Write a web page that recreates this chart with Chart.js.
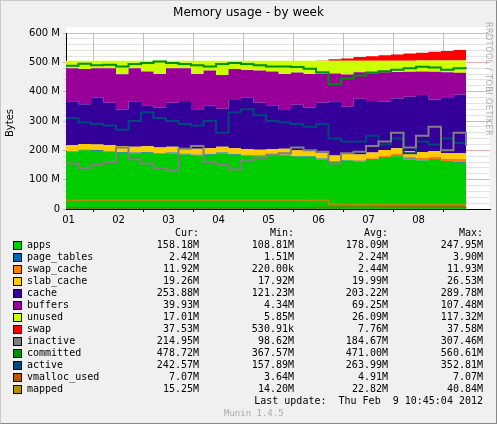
<!DOCTYPE html>
<html>
<head>
<meta charset="utf-8">
<script src="https://cdn.jsdelivr.net/npm/chart.js@4"></script>
<style>
  body { margin:0; background:#f0f0f0; width:497px; height:424px; overflow:hidden; position:relative;
         font-family:"DejaVu Sans Mono", monospace; font-size:10px; color:#000; }
  #frame { position:absolute; left:0; top:0; width:495px; height:422px; border:1px solid #c8c8c8; border-right-color:#888; border-bottom-color:#888; }
  #wrap { position:absolute; left:0; top:0; width:497px; height:228px; }
  #title { position:absolute; top:5px; left:0; width:497px; text-align:center; font-family:"DejaVu Sans", sans-serif; font-size:12px; }
  #ylab { position:absolute; left:4px; top:137px; transform:rotate(-90deg); transform-origin:left top; font-family:"DejaVu Sans", sans-serif; font-size:10px; }
  #rrd { position:absolute; left:484px; top:22px; writing-mode:vertical-rl; font-family:"DejaVu Sans", sans-serif; font-size:8px; color:#aaa; letter-spacing:0.5px; }
  .row { position:absolute; left:0; height:12px; line-height:12px; width:497px; }
  .row span { position:absolute; white-space:pre; }
  .sw { position:absolute; left:13px; top:2px; width:7px; height:7px; border:1px solid #000; }
</style>
</head>
<body>
<div id="frame"></div>
<div id="wrap"><canvas id="c" width="497" height="228"></canvas></div>
<div id="title">Memory usage - by week</div>
<div id="ylab">Bytes</div>
<div id="rrd">RRDTOOL / TOBI OETIKER</div>
<div id="legend"></div>
<script>
// time in days of February
const times = [1.45,1.7,1.95,2.2,2.45,2.7,2.95,3.2,3.45,3.7,3.95,4.2,4.45,4.7,4.95,5.2,5.45,5.7,5.95,6.2,6.45,6.7,6.95,7.2,7.45,7.7,7.95,8.2,8.45,8.7,8.95,9.2,9.45]
const dayLabels = ['01','02','03','04','05','06','07','08']

// stacked areas, in M
const apps       = [195,200,198,195,192,190,192,188,190,186,183,185,190,185,182,180,182,183,178,178,170,160,165,162,168,175,180,170,165,168,160,158,158]
const pageTables = [2.2,2.2,2.2,2.2,2.2,2.2,2.2,2.2,2.2,2.2,2.2,2.2,2.2,2.2,2.2,2.2,2.2,2.2,2.2,2.2,2.2,2.2,2.3,2.3,2.3,2.3,2.3,2.3,2.4,2.4,2.4,2.4,2.4]
const swapCache  = [0.3,0.3,0.3,0.3,0.3,0.3,0.3,0.3,0.3,0.3,0.3,0.3,0.3,0.3,0.3,0.3,0.3,0.3,0.3,0.3,0.3,0.5,1,2,3,4,5,6,7,8,9,10,11.9]
const slabCache  = [19.5,19.5,19.5,19.5,19.5,19.5,19.5,19.5,19.5,19.5,19.5,19.5,19.5,19.5,19.5,19.5,19.5,19.5,19.5,19.5,19.5,19.5,20,19.5,19.5,19.5,19.5,19.5,19.5,19.5,19.5,19.5,19.3]
const cache      = [150,135,160,145,125,155,140,135,150,160,135,145,130,165,175,160,150,135,155,145,170,185,160,190,175,165,170,185,195,175,190,200,254]
const buffers    = [113,120,100,118,120,113,115,115,118,112,120,120,115,105,95,110,115,120,110,115,100,95,110,90,95,100,90,85,80,95,85,75,40]
const unused     = [25,28,25,25,46,25,36,45,25,25,45,33,48,28,31,33,36,45,40,45,43,43,47,40,43,40,39,38,37,38,40,41,17]
const swap       = [0.5,0.5,0.5,0.5,0.5,0.5,0.5,0.5,0.5,0.5,0.5,0.5,0.5,0.5,0.5,0.5,0.5,0.5,0.5,0.5,1,5,8,12,15,18,21,24,27,30,33,36,37.5]

// lines, in M
const inactive   = [155,140,150,160,210,170,155,140,130,205,215,160,150,135,165,175,185,190,210,200,195,155,190,195,215,230,260,210,250,280,200,260,215]
const committed  = [488,495,490,492,486,494,498,503,498,494,490,486,494,498,494,490,486,486,484,478,466,425,445,455,465,470,475,480,485,482,475,480,479]
const active     = [310,295,290,285,270,300,330,310,300,290,285,300,260,330,340,320,300,295,290,280,290,240,230,230,250,220,240,190,230,220,240,225,243]
const vmalloc    = [4,4,4,4,4,4,4,4,4,4,4,4,4,4,4,4,4,4,4.5,4.5,5,5.5,6,6,6,6.5,6.5,6.5,7,7,7,7,7.07]
const mapped     = [30,30,30,30,30,30,30,30,30,30,30,30,30,30,30,30,30,30,30,30,30,16,15.5,15.5,15.5,15.5,15.5,15.5,15.5,15.3,15.3,15.3,15.25]

const yTicks = [0,100,200,300,400,500,600]

const legendRows = [
  ['apps','#00CC00','158.18M','108.81M','178.09M','247.95M'],
  ['page_tables','#0066B3','2.42M','1.51M','2.24M','3.90M'],
  ['swap_cache','#FF8000','11.92M','220.00k','2.44M','11.93M'],
  ['slab_cache','#FFCC00','19.26M','17.92M','19.99M','26.53M'],
  ['cache','#330099','253.88M','121.23M','203.22M','289.78M'],
  ['buffers','#990099','39.93M','4.34M','69.25M','107.48M'],
  ['unused','#CCFF00','17.01M','5.85M','26.09M','117.32M'],
  ['swap','#FF0000','37.53M','530.91k','7.76M','37.58M'],
  ['inactive','#808080','214.95M','98.62M','184.67M','307.46M'],
  ['committed','#008F00','478.72M','367.57M','471.00M','560.61M'],
  ['active','#00487D','242.57M','157.89M','263.99M','352.81M'],
  ['vmalloc_used','#B35A00','7.07M','3.64M','4.91M','7.07M'],
  ['mapped','#B38F00','15.25M','14.20M','22.82M','40.84M']
]

const pts = arr => arr.map((v, i) => ({ x: times[i], y: v }))

function area(label, data, color, first) {
  return { label, data: pts(data), yAxisID: 'y', backgroundColor: color, borderColor: color,
           borderWidth: 0, fill: first ? 'origin' : '-1', pointRadius: 0, stepped: true, order: 2 }
}
function line(label, data, color, w) {
  return { label, data: pts(data), yAxisID: 'y2', borderColor: color, borderWidth: w || 1.5,
           fill: false, pointRadius: 0, stepped: true, order: 1 }
}

const xTicks = []
for (let t = 1.5; t <= 9.5; t += 0.5) xTicks.push(t)

new Chart(document.getElementById('c'), {
  type: 'line',
  data: {
    datasets: [
      area('apps', apps, '#00CC00', true),
      area('page_tables', pageTables, '#0066B3'),
      area('swap_cache', swapCache, '#FF8000'),
      area('slab_cache', slabCache, '#FFCC00'),
      area('cache', cache, '#330099'),
      area('buffers', buffers, '#990099'),
      area('unused', unused, '#CCFF00'),
      area('swap', swap, '#FF0000'),
      line('inactive', inactive, '#808080', 2),
      line('committed', committed, '#008F00', 2),
      line('active', active, '#00487D', 2),
      line('vmalloc_used', vmalloc, '#B35A00'),
      line('mapped', mapped, '#B38F00')
    ]
  },
  options: {
    responsive: false, animation: false,
    layout: { padding: { top: 33, right: 7, left: 0, bottom: 0 } },
    plugins: { legend: { display: false }, tooltip: { enabled: false } },
    scales: {
      x: {
        type: 'linear', min: 1.45, max: 9.93,
        afterBuildTicks: s => { s.ticks = xTicks.map(v => ({ value: v })) },
        ticks: {
          autoSkip: false, maxRotation: 0, color: '#000', padding: 2,
          font: { family: 'DejaVu Sans', size: 10 },
          callback: v => (v % 1 === 0.5 && v < 9) ? dayLabels[Math.floor(v) - 1] : ''
        },
        grid: {
          color: c => (c.tick && c.tick.value % 1 === 0) ? 'rgba(220,120,120,0.6)' : 'rgba(0,0,0,0)',
          tickColor: c => (c.tick && c.tick.value % 1 === 0) ? '#000' : 'rgba(0,0,0,0)',
          tickLength: 3, drawOnChartArea: true
        },
        border: { color: '#000', dash: [] }
      },
      y: {
        stacked: true, min: 0, max: 600,
        afterBuildTicks: s => { const a = []; for (let v = 0; v <= 600; v += 20) a.push({ value: v }); s.ticks = a },
        ticks: {
          autoSkip: false, color: '#000', padding: 3,
          font: { family: 'DejaVu Sans', size: 10 },
          callback: v => yTicks.includes(v) ? (v === 0 ? '0' : v + ' M') : ''
        },
        grid: {
          color: c => (c.tick && c.tick.value % 100 === 0) ? 'rgba(220,120,120,0.6)' : 'rgba(200,200,200,0.5)',
          tickLength: 3
        },
        border: { color: '#000', dash: [] },
        afterFit: s => { s.width = 66 }
      },
      y2: { display: false, min: 0, max: 600 }
    }
  },
  plugins: [{
    id: 'bg',
    beforeDraw: ch => {
      const { ctx, chartArea: a } = ch
      ctx.save()
      ctx.fillStyle = '#fff'
      ctx.fillRect(a.left, a.top - 6, a.right - a.left, a.bottom - a.top + 6)
      ctx.restore()
    }
  }]
})

// legend table
const leg = document.getElementById('legend')
const cols = [199, 294, 388, 483]
function addRow(y, cells, color) {
  const r = document.createElement('div')
  r.className = 'row'
  r.style.top = y + 'px'
  let html = ''
  if (color) html += `<div class="sw" style="background:${color}"></div>`
  if (cells[0]) html += `<span style="left:27px">${cells[0]}</span>`
  cells.slice(1).forEach((t, i) => {
    html += `<span style="right:${497 - cols[i]}px">${t}</span>`
  })
  r.innerHTML = html
  leg.appendChild(r)
}
addRow(227, ['', 'Cur:', 'Min:', 'Avg:', 'Max:'])
legendRows.forEach((r, i) => addRow(239 + i * 12, [r[0], r[2], r[3], r[4], r[5]], r[1]))
const lu = document.createElement('div')
lu.className = 'row'
lu.style.top = '395px'
lu.innerHTML = '<span style="right:14px">Last update:  Thu Feb  9 10:45:04 2012</span>'
leg.appendChild(lu)
const mu = document.createElement('div')
mu.className = 'row'
mu.style.top = '407px'
mu.innerHTML = '<span style="left:224px;color:#aaa;font-size:9px">Munin 1.4.5</span>'
leg.appendChild(mu)
</script>
</body>
</html>
